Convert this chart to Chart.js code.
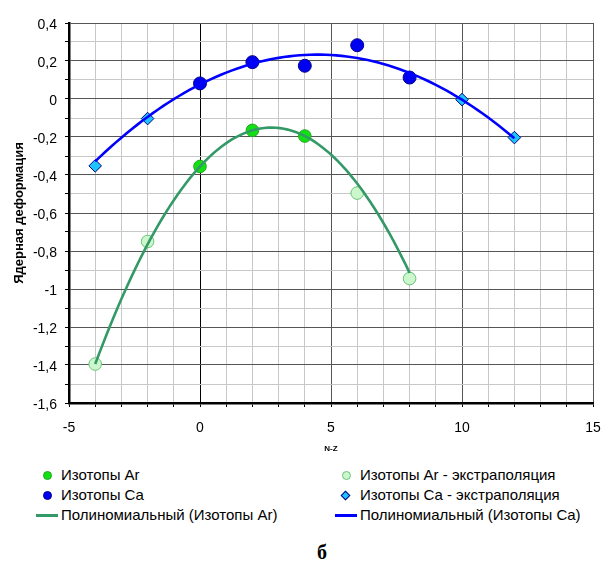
<!DOCTYPE html>
<html>
<head>
<meta charset="utf-8">
<script src="https://cdn.jsdelivr.net/npm/chart.js@4"></script>
<style>
  html, body { margin: 0; padding: 0; background: #fff; }
  #wrap { position: relative; width: 608px; height: 567px; font-family: "Liberation Sans", Arial, sans-serif; }
  #plot { position: absolute; left: 0; top: 0; }
  .item { position: absolute; height: 20px; font-size: 15px; line-height: 20px; color: #000; white-space: nowrap; }
  .mk { position: absolute; top: 50%; box-sizing: border-box; }
  .dot { width: 9px; height: 9px; margin-top: -4.5px; border-radius: 50%; border: 1px solid; }
  .dia { width: 7px; height: 7px; margin-top: -3.5px; border: 1px solid; transform: rotate(45deg); }
  .ln { height: 3px; margin-top: -1.5px; }
  .txt { position: absolute; top: 0; }
  #letter { position: absolute; left: 0; width: 644px; top: 541px; text-align: center; font: bold 20px "Liberation Serif", "Times New Roman", serif; }
</style>
</head>
<body>
<div id="wrap">
  <canvas id="plot" width="608" height="460"></canvas>
  <div id="legend"></div>
  <div id="letter">б</div>
</div>
<script>
// Measured isotopes (N-Z, deformation)
const arX = [0, 2, 4];
const arY = [-0.355, -0.165, -0.195];
const caX = [0, 2, 4, 6, 8];
const caY = [0.082, 0.194, 0.175, 0.283, 0.113];

// Extrapolated values
const arExtX = [-4, -2, 6, 8];
const arExtY = [-1.395, -0.75, -0.495, -0.945];
const caExtX = [-4, -2, 10, 12];
const caExtY = [-0.352, -0.103, -0.003, -0.203];

// Span of each polynomial trendline along N-Z
const arTrendSpan = [-4, 8];
const caTrendSpan = [-4, 12];

// Axis ticks (grid every step, labels on the major ones)
const xTicks = [-5, -4, -3, -2, -1, 0, 1, 2, 3, 4, 5, 6, 7, 8, 9, 10, 11, 12, 13, 14, 15];
const xLabelled = [-5, 0, 5, 10, 15];
const yTicks = [0.4, 0.3, 0.2, 0.1, 0, -0.1, -0.2, -0.3, -0.4, -0.5, -0.6, -0.7, -0.8, -0.9, -1, -1.1, -1.2, -1.3, -1.4, -1.5, -1.6];
const yLabelled = [0.4, 0.2, 0, -0.2, -0.4, -0.6, -0.8, -1, -1.2, -1.4, -1.6];

const seriesNames = {
  ar: 'Изотопы Ar',
  arExt: 'Изотопы Ar - экстраполяция',
  ca: 'Изотопы Ca',
  caExt: 'Изотопы Ca - экстраполяция',
  arFit: 'Полиномиальный (Изотопы Ar)',
  caFit: 'Полиномиальный (Изотопы Ca)'
};

const colors = {
  arFill: '#12e012', arEdge: '#22a622',
  arExtFill: '#ccf7cc', arExtEdge: '#6cc27c',
  caFill: '#0000f0', caEdge: '#000090',
  caExtFill: '#1ec4ff', caExtEdge: '#000080',
  arLine: '#339966', caLine: '#0000ff'
};

const FONT = '"Liberation Sans", Arial, sans-serif';

function pairs(xs, ys) { return xs.map((x, i) => ({ x: x, y: ys[i] })); }

// Least-squares quadratic fit y = c0 + c1 x + c2 x^2
function quadFit(xs, ys) {
  const s = [0, 0, 0, 0, 0], t = [0, 0, 0];
  xs.forEach((x, i) => {
    for (let k = 0; k < 5; k++) s[k] += Math.pow(x, k);
    for (let k = 0; k < 3; k++) t[k] += ys[i] * Math.pow(x, k);
  });
  const m = [[s[0], s[1], s[2], t[0]], [s[1], s[2], s[3], t[1]], [s[2], s[3], s[4], t[2]]];
  for (let c = 0; c < 3; c++) {
    for (let r = c + 1; r < 3; r++) {
      const f = m[r][c] / m[c][c];
      for (let k = c; k < 4; k++) m[r][k] -= f * m[c][k];
    }
  }
  const out = [0, 0, 0];
  for (let r = 2; r >= 0; r--) {
    let v = m[r][3];
    for (let k = r + 1; k < 3; k++) v -= m[r][k] * out[k];
    out[r] = v / m[r][r];
  }
  return out;
}

// Trendline evaluated from the fitted polynomial across its span
function trendPoints(xs, ys, span) {
  const c = quadFit(xs, ys);
  const pts = [];
  const n = 80;
  for (let i = 0; i <= n; i++) {
    const x = span[0] + (span[1] - span[0]) * i / n;
    pts.push({ x: x, y: c[0] + c[1] * x + c[2] * x * x });
  }
  return pts;
}

const isMajorY = v => yLabelled.some(l => Math.abs(l - v) < 1e-6);
const isMajorX = v => xLabelled.some(l => Math.abs(l - v) < 1e-6);
const fmt = v => String(Math.round(v * 10) / 10).replace('.', ',');

new Chart(document.getElementById('plot'), {
  type: 'scatter',
  data: {
    datasets: [
      { label: seriesNames.arFit, type: 'line', data: trendPoints(arX, arY, arTrendSpan),
        borderColor: colors.arLine, borderWidth: 2.6, pointRadius: 0, fill: false, tension: 0, order: 0 },
      { label: seriesNames.caFit, type: 'line', data: trendPoints(caX, caY, caTrendSpan),
        borderColor: colors.caLine, borderWidth: 2.6, pointRadius: 0, fill: false, tension: 0, order: 0 },
      { label: seriesNames.ar, data: pairs(arX, arY), pointStyle: 'circle', pointRadius: 6.3,
        backgroundColor: colors.arFill, borderColor: colors.arEdge, borderWidth: 1, order: 1 },
      { label: seriesNames.arExt, data: pairs(arExtX, arExtY), pointStyle: 'circle', pointRadius: 6.3,
        backgroundColor: colors.arExtFill, borderColor: colors.arExtEdge, borderWidth: 1, order: 1 },
      { label: seriesNames.ca, data: pairs(caX, caY), pointStyle: 'circle', pointRadius: 6.5,
        backgroundColor: colors.caFill, borderColor: colors.caEdge, borderWidth: 1, order: 1 },
      { label: seriesNames.caExt, data: pairs(caExtX, caExtY), pointStyle: 'rectRot', pointRadius: 6.3,
        backgroundColor: colors.caExtFill, borderColor: colors.caExtEdge, borderWidth: 1, order: 1 }
    ]
  },
  options: {
    responsive: false,
    animation: false,
    devicePixelRatio: 1,
    layout: { padding: { top: 23, right: 15, left: 0, bottom: 0 } },
    plugins: { legend: { display: false }, tooltip: { enabled: false } },
    scales: {
      x: {
        type: 'linear', min: -5, max: 15,
        afterBuildTicks: s => { s.ticks = xTicks.map(v => ({ value: v })); },
        afterFit: s => { s.height = 57; s.paddingLeft = 0; s.paddingRight = 0; },
        ticks: {
          autoSkip: false, maxRotation: 0, padding: 13, color: '#000',
          font: { family: FONT, size: 14 },
          callback: v => isMajorX(v) ? String(v) : ''
        },
        grid: {
          color: c => { const v = c.tick.value; return v === 0 ? '#000' : (isMajorX(v) ? '#555' : '#c8c8c8'); },
          lineWidth: 1, tickColor: '#000', tickLength: 4, drawTicks: true
        },
        border: { color: '#000', width: 2.5 },
        title: { display: true, text: 'N-Z', color: '#000', font: { family: FONT, size: 8, weight: 'bold' }, padding: { top: 0, bottom: 6 } }
      },
      y: {
        type: 'linear', min: -1.6, max: 0.4,
        afterBuildTicks: s => { s.ticks = yTicks.slice().reverse().map(v => ({ value: v })); },
        afterFit: s => { s.width = 69; s.paddingTop = 0; s.paddingBottom = 0; },
        ticks: {
          autoSkip: false, padding: 8, labelOffset: 2, color: '#000',
          font: { family: FONT, size: 14 },
          callback: v => isMajorY(v) ? fmt(v) : ''
        },
        grid: {
          color: c => isMajorY(c.tick.value) ? '#555' : '#c8c8c8',
          lineWidth: 1, tickColor: '#000', tickLength: 4, drawTicks: true
        },
        border: { color: '#000', width: 2.5 },
        title: { display: true, text: 'Ядерная деформация', color: '#000', font: { family: FONT, size: 13, weight: 'bold' }, padding: { top: 12, bottom: 0 } }
      }
    }
  }
});

// Legend: two columns, three rows
const legendRows = [
  [{ kind: 'dot', name: seriesNames.ar, fill: colors.arFill, edge: colors.arEdge },
   { kind: 'dot', name: seriesNames.arExt, fill: colors.arExtFill, edge: colors.arExtEdge }],
  [{ kind: 'dot', name: seriesNames.ca, fill: colors.caFill, edge: colors.caEdge },
   { kind: 'dia', name: seriesNames.caExt, fill: colors.caExtFill, edge: colors.caExtEdge }],
  [{ kind: 'ln', name: seriesNames.arFit, fill: colors.arLine },
   { kind: 'ln', name: seriesNames.caFit, fill: colors.caLine }]
];
const colLeft = [36, 335];
const rowMid = [475, 495, 515];
const legend = document.getElementById('legend');
legendRows.forEach((row, r) => {
  row.forEach((it, c) => {
    const el = document.createElement('div');
    el.className = 'item';
    el.style.left = colLeft[c] + 'px';
    el.style.top = (rowMid[r] - 10) + 'px';
    const mk = document.createElement('span');
    mk.className = 'mk ' + it.kind;
    if (it.kind === 'ln') {
      mk.style.left = '0px'; mk.style.width = '22px'; mk.style.background = it.fill;
    } else if (it.kind === 'dot') {
      mk.style.left = '6.5px'; mk.style.background = it.fill; mk.style.borderColor = it.edge;
    } else {
      mk.style.left = '7px'; mk.style.background = it.fill; mk.style.borderColor = it.edge;
    }
    const tx = document.createElement('span');
    tx.className = 'txt';
    tx.style.left = '25px';
    tx.textContent = it.name;
    el.appendChild(mk);
    el.appendChild(tx);
    legend.appendChild(el);
  });
});
</script>
</body>
</html>
